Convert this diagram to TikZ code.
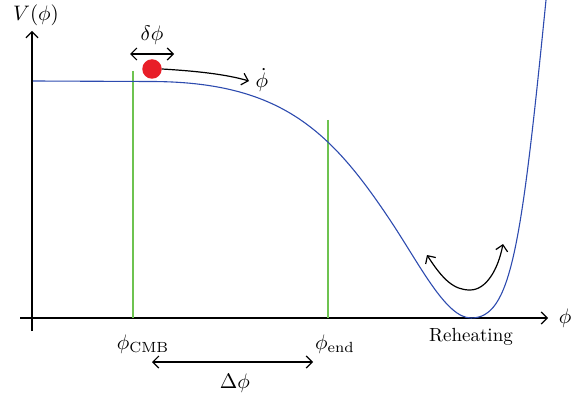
\documentclass[tikz,border=0pt]{standalone}
\usepackage{graphicx}
\usetikzlibrary{arrows.meta}
\definecolor{curveblue}{RGB}{45,75,175}
\definecolor{linegreen}{RGB}{110,195,80}
\definecolor{ballred}{RGB}{232,30,40}
\newcommand{\bigtxt}[1]{\scalebox{1.9}{#1}}
\newcommand{\bigmath}[1]{\scalebox{2.1}{#1}}
\begin{document}
\begin{tikzpicture}[x=1pt,y=-1pt,
  lbl/.style={inner sep=0pt},
  arr/.style={line width=1.2pt,-{Straight Barb[length=6pt,width=12pt,line width=1.2pt]}},
  darr/.style={line width=1.2pt,{Straight Barb[length=6pt,width=12pt,line width=1.2pt]}-{Straight Barb[length=6pt,width=12pt,line width=1.2pt]}},
  gline/.style={linegreen,line width=1.1pt}]
\useasboundingbox (0,0) rectangle (580,398);
% axes
\coordinate (xs) at (20,318);
\coordinate (xe) at (548,318);
\coordinate (ys) at (32,331);
\coordinate (ye) at (32,31);
\draw[arr] (xs) -- (xe);
\draw[arr] (ys) -- (ye);
\node[lbl] (xl) at (565,318) {\bigmath{$\phi$}};
\node[lbl] (yl) at (36,15) {\bigmath{$V(\phi)$}};
% green lines
\coordinate (g1t) at (133,71);
\coordinate (g1b) at (133,318);
\coordinate (g2t) at (328,120);
\coordinate (g2b) at (328,318);
\draw[gline] (g1t) -- (g1b);
\draw[gline] (g2t) -- (g2b);
% potential
\draw[curveblue,line width=1.1pt] (33,81) -- (150,81.5)
  .. controls (280,81.5) and (330,130) .. (390,220)
  .. controls (420,265) and (446,318) .. (471,318)
  .. controls (511,318) and (521,250) .. (546,0);
% ball
\node[circle,fill=ballred,minimum size=19.5pt,inner sep=0pt] (ball) at (152,69) {};
\coordinate (da) at (130,54);
\coordinate (db) at (174,54);
\draw[darr] (da) -- (db);
\node[lbl] (dl) at (152,35) {\bigmath{$\delta\phi$}};
\coordinate (pe) at (249,81);
\draw[arr] (ball.east) .. controls (195,71) and (225,74) .. (pe);
\node[lbl] (pd) at (262,80) {\bigmath{$\dot\phi$}};
% labels below axis
\node[lbl] (cmb) at (143,344) {\bigmath{$\phi_{\mathrm{CMB}}$}};
\node[lbl] (end) at (335,344) {\bigmath{$\phi_{\mathrm{end}}$}};
\coordinate (Da) at (152,362);
\coordinate (Db) at (313,362);
\draw[darr] (Da) -- (Db);
\node[lbl] (Dl) at (235,383) {\bigmath{$\Delta\phi$}};
\node[lbl] (reh) at (471,337) {\bigtxt{Reheating}};
% reheating arrow
\coordinate (ra) at (427,255);
\coordinate (rm) at (470,290);
\coordinate (rb) at (503,244);
\draw[darr] (ra) .. controls (443,280) and (454,290) .. (rm) .. controls (486,290) and (498,270) .. (rb);
\end{tikzpicture}
\end{document}
